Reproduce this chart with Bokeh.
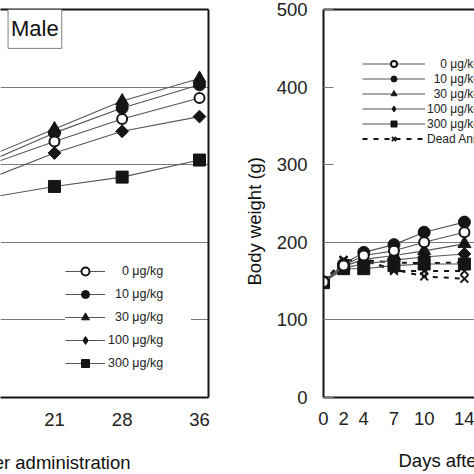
import math
from bokeh.plotting import figure
from bokeh.models import Range1d, LinearAxis, FixedTicker, Legend, LegendItem, Label, Grid, Title
from bokeh.layouts import row
from bokeh.embed import file_html
from bokeh.resources import INLINE

FONT = "Liberation Sans"
INK = "#151515"
LINE = "#555555"
GRID = "#7a7a7a"

# ---------------- data ----------------
# Left panel (Male), only the visible part (days 14..36)
male_days = [14, 21, 28, 36]
male_0 = [299, 330, 359, 386]
male_10 = [303, 341, 373, 403]
male_30 = [310, 346, 382, 411]
male_100 = [281, 315, 343, 362]
male_300 = [257, 272, 284, 306]

# Right panel, visible part (days 0..14)
fem_days = [0, 2, 4, 7, 10, 14]
fem_0 = [149, 170, 183, 189, 200, 213]
fem_10 = [149, 172, 187, 197, 213, 226]
fem_30 = [149, 169, 178, 183, 189, 198]
fem_100 = [149, 167, 172, 177, 181, 185]
fem_300 = [148, 166, 166, 170, 172, 172]
dead_a = [149, 177, 177, 174, 173, 174]
dead_b = [149, 177, 177, 163, 163, 163]
dead_c = [149, 177, 177, 165, 156, 153]

day_ticks = [0, 2, 4, 7, 10, 14, 21, 28, 36]
weight_ticks = [0, 100, 200, 300, 400, 500]
grid_left = [100, 200, 300, 400]
grid_right = [100, 200]          # upper grid lines are hidden behind the legend box there
dose_labels = ["0 μg/kg", "10 μg/kg", "30 μg/kg", "100 μg/kg", "300 μg/kg"]
dead_label = "Dead Animals"
x_title = "Days after administration"
y_title = "Body weight (g)"
panel_title = "Male"

# marker styles per dose (0, 10, 30, 100, 300); "legend" = marker used in the legend key
STYLES = [
    dict(marker="circle", size=10, fill_color="white", line_width=2, angle=0.0, legend="circle"),
    dict(marker="circle", size=12, fill_color=INK, line_width=1, angle=0.0, legend="circle"),
    dict(marker="triangle", size=13, fill_color=INK, line_width=1, angle=0.0, legend="triangle"),
    dict(marker="square", size=9, fill_color=INK, line_width=1, angle=math.pi / 4, legend="diamond"),
    dict(marker="square", size=12, fill_color=INK, line_width=1, angle=0.0, legend="square"),
]


def pad_label(lbl):
    num = lbl.split(" ")[0]
    return "\u2007" * (3 - len(num)) + lbl


def border_axis():
    return LinearAxis(ticker=FixedTicker(ticks=[]), axis_line_width=2, axis_line_color=INK,
                      major_tick_out=0, major_tick_in=0, minor_tick_out=0, minor_tick_in=0,
                      major_label_standoff=0, major_label_text_font_size="0px")


def spacer_axis(size, tick):
    # blank axis (white tick, no line, empty label): only reserves room above the title
    return LinearAxis(ticker=FixedTicker(ticks=[tick]), axis_line_color=None,
                      major_tick_out=size, major_tick_in=0, major_tick_line_color="white",
                      minor_tick_out=0, minor_tick_in=0,
                      major_label_overrides={tick: ""},
                      major_label_standoff=0, major_label_text_font_size="0px")


def style_axis(ax, ticks, standoff):
    ax.ticker = FixedTicker(ticks=ticks)
    ax.axis_line_width = 2
    ax.axis_line_color = INK
    ax.major_tick_out = 0
    ax.major_tick_in = 0
    ax.minor_tick_out = 0
    ax.minor_tick_in = 0
    ax.major_label_standoff = standoff
    ax.major_label_text_font = FONT
    ax.major_label_text_font_size = "18.5px"
    ax.major_label_text_color = "#222222"


def add_grid(p, ticks):
    for g in p.grid:
        g.visible = False
    p.add_layout(Grid(dimension=1, ticker=FixedTicker(ticks=ticks),
                      grid_line_color=GRID, grid_line_width=1), "center")


def draw_all(p, days, series):
    # draw 300 first, 0 last (on top)
    out = {}
    for i in range(len(series) - 1, -1, -1):
        st = STYLES[i]
        vals = series[i]
        ln = p.line(days, vals, line_color=LINE, line_width=1.1)
        sc = p.scatter(days, vals, marker=st["marker"], size=st["size"], angle=st["angle"],
                       fill_color=st["fill_color"], line_color=INK, line_width=st["line_width"])
        if st["legend"] != st["marker"]:
            # hidden twin used only as the legend key (legend keys are not rotated)
            key = p.scatter(days, vals, marker=st["legend"], fill_color=st["fill_color"],
                            line_color=INK, line_width=st["line_width"], visible=False)
            out[i] = [ln, key]
        else:
            out[i] = [ln, sc]
    return [LegendItem(label=pad_label(dose_labels[i]), renderers=out[i]) for i in range(len(series))]


def axis_title(text, **kw):
    return Title(text=text, text_font=FONT, text_font_size="18.5px", text_font_style="normal",
                 text_color="#111111", **kw)


# ---------------- left panel ----------------
left = figure(width=223, height=474, x_range=Range1d(15.42, 36.93), y_range=Range1d(0, 500),
              output_backend="svg", toolbar_location=None, tools="",
              x_axis_location="below", y_axis_location=None,
              min_border_left=0, min_border_right=15, min_border_top=8, min_border_bottom=77,
              outline_line_color=None, background_fill_color="white", border_fill_color="white")
add_grid(left, grid_left)
style_axis(left.xaxis[0], day_ticks, 15)
left.add_layout(border_axis(), "above")
left.add_layout(border_axis(), "right")

left_items = draw_all(left, male_days, [male_0, male_10, male_30, male_100, male_300])
left_legend = Legend(items=left_items, location=(65, 24), padding=10, spacing=3,
                     glyph_width=40, glyph_height=20, label_height=20, label_width=83,
                     label_standoff=3, margin=0, border_line_color=None,
                     background_fill_color="white", background_fill_alpha=1.0,
                     inactive_fill_alpha=0.0,
                     label_text_font=FONT, label_text_font_size="12.5px",
                     label_text_color="#222222")
left.add_layout(left_legend)

left.add_layout(Label(x=16.2, y=475, text=panel_title, text_font=FONT, text_font_size="22px",
                      text_align="left", text_baseline="middle", text_color="#111111",
                      border_line_color="#808080", border_line_width=1,
                      background_fill_color="white",
                      padding=dict(left=3, right=3, top=7, bottom=7)))
left.add_layout(spacer_axis(21, 30), "below")
left.add_layout(axis_title(x_title, align="right", offset=78, standoff=0), "below")

# ---------------- right panel ----------------
right = figure(width=251, height=474, x_range=Range1d(0, 15.0), y_range=Range1d(0, 500),
               output_backend="svg", toolbar_location=None, tools="",
               x_axis_location="below", y_axis_location="left",
               min_border_left=100, min_border_right=0, min_border_top=9, min_border_bottom=75,
               outline_line_color=None, background_fill_color="white", border_fill_color="white")
add_grid(right, grid_right)
style_axis(right.xaxis[0], day_ticks, 14)
style_axis(right.yaxis[0], weight_ticks, 16)
right.yaxis[0].major_tick_in = 10
right.yaxis[0].major_tick_line_color = GRID
right.yaxis[0].major_tick_line_width = 1
right.add_layout(border_axis(), "above")

dead_rends = []
for dv in [dead_a, dead_b, dead_c]:
    dl = right.line(fem_days, dv, line_color=INK, line_width=2, line_dash="5 6")
    ds = right.scatter(fem_days, dv, marker="x", size=11, line_color=INK, line_width=2)
    dead_rends.append([dl, ds])

right_items = draw_all(right, fem_days, [fem_0, fem_10, fem_30, fem_100, fem_300])
right_items.append(LegendItem(label=dead_label, renderers=dead_rends[0]))
right_legend = Legend(items=right_items, location=(39, 251), padding=10, spacing=0,
                      glyph_width=63, glyph_height=15, label_height=15,
                      label_standoff=2, margin=0, border_line_color=None,
                      background_fill_color="white", background_fill_alpha=1.0,
                      inactive_fill_alpha=0.0,
                      label_text_font=FONT, label_text_font_size="12px",
                      label_text_color="#222222")
right.add_layout(right_legend)

right.add_layout(spacer_axis(20, 5), "below")
right.add_layout(axis_title(x_title, align="left", offset=75, standoff=0), "below")
right.add_layout(axis_title(y_title, align="left", offset=112, standoff=18), "left")

layout = row(left, right)
open("out.html", "w").write(file_html(layout, INLINE))
